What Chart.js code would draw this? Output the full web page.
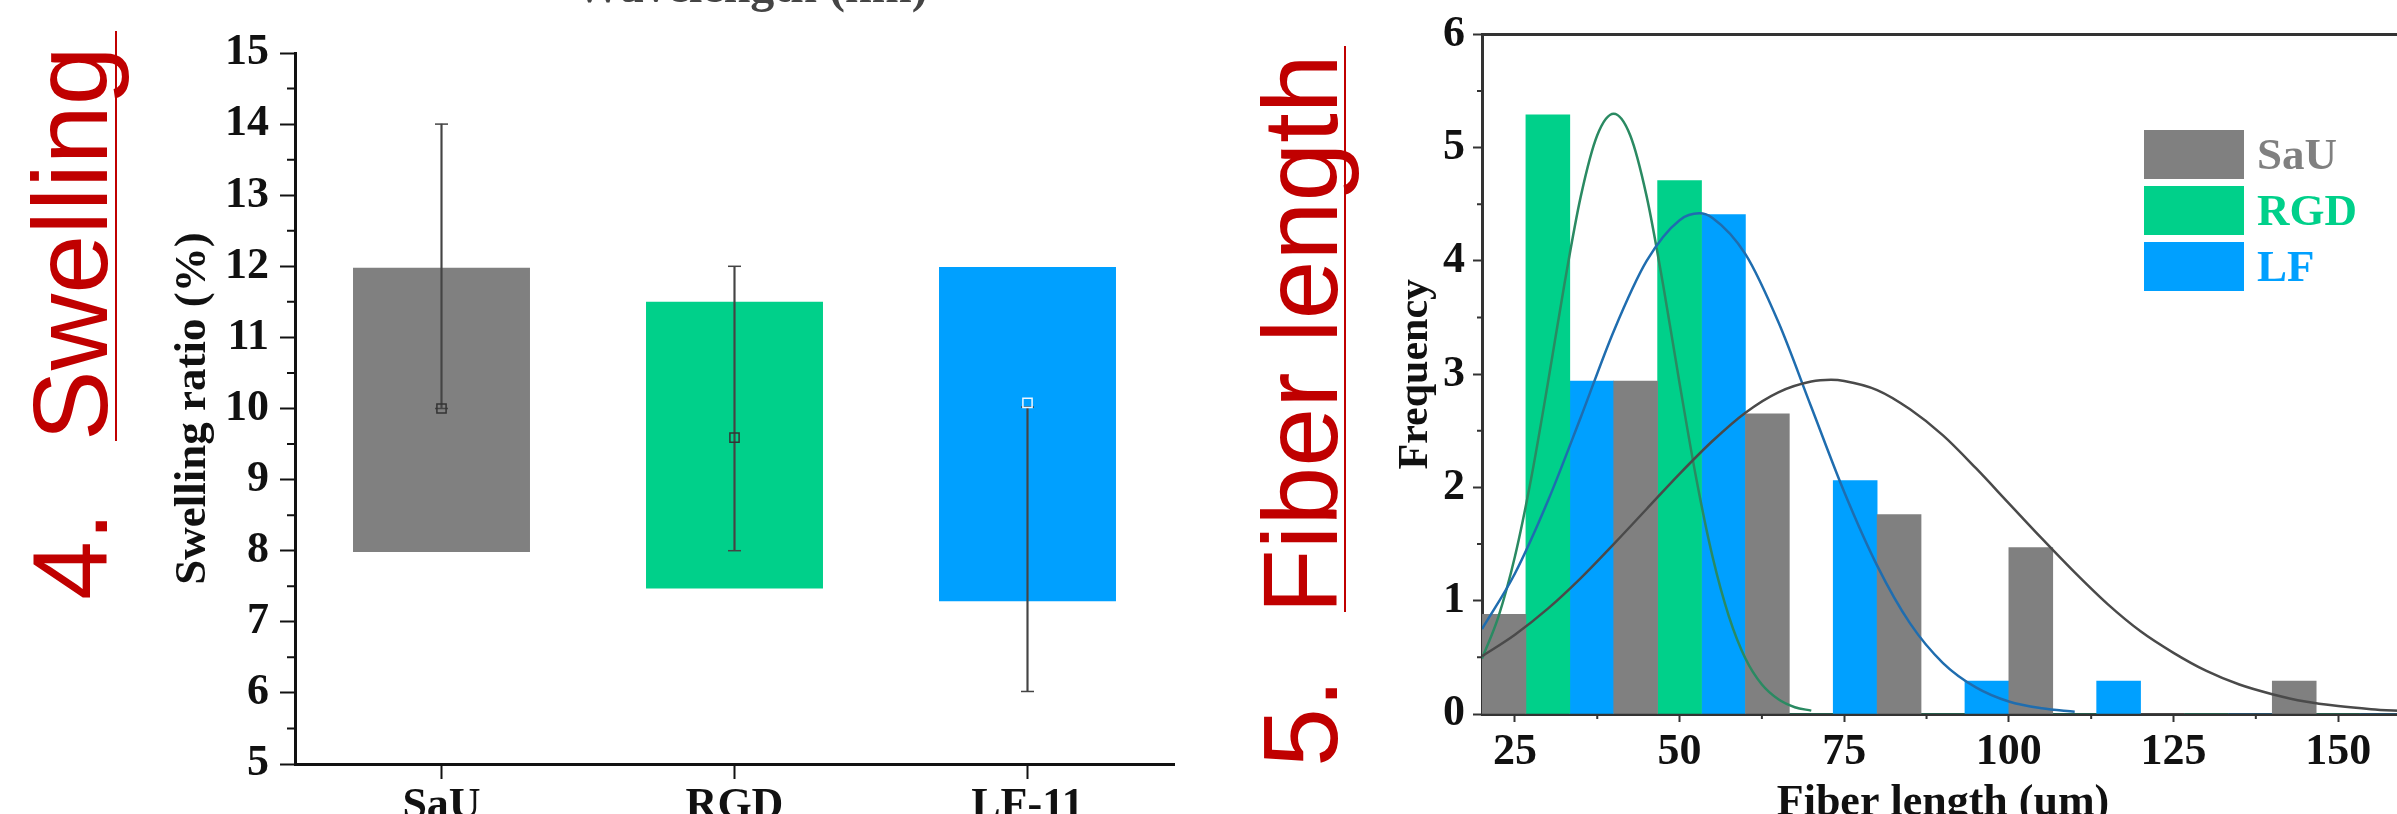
<!DOCTYPE html>
<html>
<head>
<meta charset="utf-8">
<script src="https://cdn.jsdelivr.net/npm/chart.js@4.4.1/dist/chart.umd.min.js"></script>
<style>
  html, body { margin: 0; padding: 0; width: 2397px; height: 814px; overflow: hidden; background: #fff; }
  .abs { position: absolute; }
  .red { position: absolute; font-family: 'Liberation Sans', Arial, sans-serif; font-size: 106px; line-height: 106px;
         color: #C00000; white-space: nowrap; transform-origin: 0 0; transform: rotate(-90deg); }
  .uline { position: absolute; width: 2px; background: #C00000; }
  .serif { font-family: 'Liberation Serif', 'Times New Roman', serif; font-weight: bold; }
  #wl { position: absolute; left: 551px; top: -38px; width: 400px; text-align: center; font-size: 48px; line-height: 48px; color: #444; }
  .lgbox { position: absolute; width: 100px; }
  .lgtxt { position: absolute; font-size: 45px; white-space: nowrap; }
</style>
</head>
<body>
<canvas id="c1" class="abs" width="1200" height="900" style="left:0;top:0;width:1200px;height:900px"></canvas>
<canvas id="c2" class="abs" width="1210" height="900" style="left:1200px;top:0;width:1210px;height:900px"></canvas>

<div id="wl" class="serif">Wavelength (nm)</div>

<div class="red" style="left:17px;top:441px">Swelling</div>
<div class="uline" style="left:115px;top:31px;height:410px"></div>
<div class="red" style="left:17px;top:600px">4.</div>

<div class="red" style="left:1247px;top:614px">Fiber length</div>
<div class="uline" style="left:1344px;top:46px;height:566px"></div>
<div class="red" style="left:1247px;top:767px">5.</div>

<div id="legend"></div>

<script>
// ---------- Chart 4: swelling ratio ----------
const swellCategories = ['SaU', 'RGD', 'LF-11'];
const boxLow      = [7.98, 7.47, 7.29];
const boxHigh     = [11.98, 11.5, 11.99];
const whiskerLow  = [10.0, 8.0, 6.02];
const whiskerHigh = [14.0, 12.0, 10.02];
const meanValues  = [10.0, 9.59, 10.08];

// ---------- Chart 5: fiber length histogram ----------
const seriesNames  = ['SaU', 'RGD', 'LF'];
const seriesColors = ['#808080', '#00D08A', '#00A0FF'];
const binCenters = [30, 50, 70, 90, 110, 130, 150];
const sauFreq = [0.88, 2.94, 2.65, 1.76, 1.47, 0, 0.29];
const rgdFreq = [5.29, 4.71, 0, 0, 0, 0, 0];
const lfFreq  = [2.94, 4.41, 2.06, 0.29, 0.29, 0, 0];

// fitted curves
const sauFitX = [20, 25, 30, 35, 40, 45, 50, 55, 60, 65, 70, 73, 75, 80, 85, 90, 95, 100, 105, 110, 115, 120, 125, 130, 135, 140, 145, 150, 155, 160];
const sauFitY = [0.51, 0.70, 0.93, 1.20, 1.50, 1.81, 2.12, 2.41, 2.66, 2.84, 2.935, 2.95, 2.94, 2.86, 2.69, 2.46, 2.17, 1.86, 1.55, 1.25, 0.97, 0.73, 0.54, 0.38, 0.26, 0.175, 0.11, 0.07, 0.043, 0.025];
const rgdFitX = [20, 22.5, 25, 27.5, 30, 32.5, 35, 37.5, 40, 42.5, 45, 47.5, 50, 52.5, 55, 57.5, 60, 62.5, 65, 67.5, 70];
const rgdFitY = [0.49, 0.86, 1.39, 2.09, 2.92, 3.79, 4.57, 5.11, 5.30, 5.11, 4.57, 3.79, 2.92, 2.09, 1.39, 0.86, 0.49, 0.26, 0.13, 0.06, 0.03];
const lfFitX = [20, 25, 30, 35, 40, 45, 50, 53, 55, 60, 65, 70, 75, 80, 85, 90, 95, 100, 105, 110];
const lfFitY = [0.75, 1.24, 1.88, 2.62, 3.38, 4.00, 4.36, 4.42, 4.38, 4.06, 3.46, 2.71, 1.96, 1.31, 0.80, 0.45, 0.235, 0.11, 0.05, 0.02];

const serif = '"Liberation Serif", "Times New Roman", serif';
Chart.defaults.font.family = serif;
Chart.defaults.animation = false;

const minorTickPlugin = {
  id: 'minorTicks',
  afterDraw(chart, args, opts) {
    const { ctx, chartArea } = chart;
    ctx.save();
    ctx.strokeStyle = opts.color;
    ctx.lineWidth = opts.width;
    (opts.axes || []).forEach(a => {
      const s = chart.scales[a.id];
      ctx.beginPath();
      for (let v = a.start; v < s.max; v += a.step) {
        const p = s.getPixelForValue(v);
        if (s.isHorizontal()) { ctx.moveTo(p, chartArea.bottom); ctx.lineTo(p, chartArea.bottom + a.len); }
        else { ctx.moveTo(chartArea.left, p); ctx.lineTo(chartArea.left - a.len, p); }
      }
      ctx.stroke();
    });
    ctx.restore();
  }
};

const tickFont = { family: serif, size: 44, weight: 'bold' };

// ----- chart 1 -----
const caps = [];
swellCategories.forEach((c, i) => { caps.push({ x: c, y: whiskerHigh[i] }); caps.push({ x: c, y: whiskerLow[i] }); });

new Chart(document.getElementById('c1'), {
  type: 'bar',
  data: {
    labels: swellCategories,
    datasets: [
      { type: 'line', label: 'mean', data: meanValues, showLine: false, pointStyle: 'rect', pointRadius: 6.5,
        pointBorderWidth: 1.5, borderColor: '#333', pointBorderColor: ['#333', '#333', '#eef6ff'],
        pointBackgroundColor: 'rgba(0,0,0,0)', order: 0 },
      { type: 'line', label: 'caps', data: caps, showLine: false, pointStyle: 'line', pointRadius: 6.5,
        pointBorderWidth: 1.5, borderColor: '#444', pointBorderColor: '#444', order: 1 },
      { type: 'bar', label: 'range', data: swellCategories.map((c, i) => [whiskerLow[i], whiskerHigh[i]]),
        backgroundColor: '#444', barThickness: 1.5, grouped: false, order: 2 },
      { type: 'bar', label: 'box', data: swellCategories.map((c, i) => [boxLow[i], boxHigh[i]]),
        backgroundColor: seriesColors, barPercentage: 0.604, categoryPercentage: 1, grouped: false, order: 3 }
    ]
  },
  options: {
    responsive: false, events: [],
    layout: { padding: { left: 0, right: 26, top: 53, bottom: 0 } },
    plugins: { legend: { display: false }, tooltip: { enabled: false },
      minorTicks: { color: '#111', width: 2, axes: [{ id: 'y', start: 5.5, step: 1, len: 8 }] } },
    scales: {
      x: { type: 'category', offset: true,
        grid: { drawOnChartArea: false, drawTicks: true, tickLength: 15, tickWidth: 2, tickColor: '#111', offset: false },
        border: { display: true, color: '#111', width: 3 },
        ticks: { color: '#111', font: tickFont, padding: 1, maxRotation: 0, autoSkip: false },
        afterFit(s) { s.height = 136; } },
      y: { type: 'linear', min: 5, max: 15,
        grid: { drawOnChartArea: false, drawTicks: true, tickLength: 15, tickWidth: 2, tickColor: '#111' },
        border: { display: true, color: '#111', width: 3 },
        ticks: { stepSize: 1, color: '#111', font: tickFont, padding: 11 },
        title: { display: true, text: 'Swelling ratio (%)', color: '#111', font: { family: serif, size: 45, weight: 'bold' },
                 padding: { top: 166, bottom: 0 } },
        afterFit(s) { s.width = 295; } }
    }
  },
  plugins: [minorTickPlugin]
});

// ----- chart 2 -----
const pts = (xs, ys) => xs.map((x, i) => ({ x: x, y: ys[i] }));
const curve = (xs, ys, color) => ({ type: 'line', data: pts(xs, ys), borderColor: color, borderWidth: 2.5, pointRadius: 0,
  cubicInterpolationMode: 'monotone', fill: false, xAxisID: 'x', yAxisID: 'y' });
const freqs = [sauFreq, rgdFreq, lfFreq];

new Chart(document.getElementById('c2'), {
  type: 'bar',
  data: {
    datasets: [
      curve(sauFitX, sauFitY, '#4a4a4a'),
      curve(lfFitX, lfFitY, '#1F6DAF'),
      curve(rgdFitX, rgdFitY, '#2A8A62'),
      ...seriesNames.map((n, k) => ({ type: 'bar', label: n, data: pts(binCenters, freqs[k]),
        backgroundColor: seriesColors[k], barPercentage: 1, categoryPercentage: 1, borderWidth: 0,
        xAxisID: 'x', yAxisID: 'y' }))
    ]
  },
  options: {
    responsive: false, events: [],
    layout: { padding: { left: 0, right: 6, top: 32, bottom: 0 } },
    plugins: { legend: { display: false }, tooltip: { enabled: false },
      minorTicks: { color: '#333', width: 2, axes: [{ id: 'y', start: 0.5, step: 1, len: 5 }, { id: 'x', start: 37.5, step: 25, len: 5 }] } },
    scales: {
      x: { type: 'linear', position: 'bottom', min: 20, max: 160, offset: false,
        grid: { drawOnChartArea: false, drawTicks: true, tickLength: 8, tickWidth: 2, tickColor: '#333', offset: false },
        border: { display: true, color: '#333', width: 3 },
        ticks: { stepSize: 25, includeBounds: false, color: '#111', font: tickFont, padding: 4, maxRotation: 0, autoSkip: false },
        title: { display: true, text: 'Fiber length (um)', color: '#111', font: { family: serif, size: 44, weight: 'bold' },
                 padding: { top: 0, bottom: 70 } },
        afterFit(s) { s.height = 186; } },
      x2: { type: 'linear', position: 'top', min: 20, max: 160,
        grid: { display: false, drawTicks: false }, ticks: { display: false },
        border: { display: true, color: '#333', width: 3 },
        afterFit(s) { s.height = 0; } },
      y: { type: 'linear', min: 0, max: 6,
        grid: { drawOnChartArea: false, drawTicks: true, tickLength: 9, tickWidth: 2, tickColor: '#333' },
        border: { display: true, color: '#333', width: 3 },
        ticks: { stepSize: 1, color: '#111', font: tickFont, padding: 8 },
        title: { display: true, text: 'Frequency', color: '#111', font: { family: serif, size: 42, weight: 'bold' },
                 padding: { top: 191, bottom: 0 } },
        afterFit(s) { s.width = 282; } }
    }
  },
  plugins: [minorTickPlugin]
});

// ----- legend (chart 5) -----
const legendEl = document.getElementById('legend');
seriesNames.forEach((n, i) => {
  const top = 130 + i * 56;
  const b = document.createElement('div');
  b.className = 'lgbox';
  b.style.left = '2144px'; b.style.top = top + 'px'; b.style.height = '49px'; b.style.background = seriesColors[i];
  legendEl.appendChild(b);
  const t = document.createElement('div');
  t.className = 'lgtxt serif';
  t.style.left = '2257px'; t.style.top = top + 'px'; t.style.lineHeight = '49px'; t.style.color = seriesColors[i];
  t.textContent = n;
  legendEl.appendChild(t);
});
</script>
</body>
</html>
